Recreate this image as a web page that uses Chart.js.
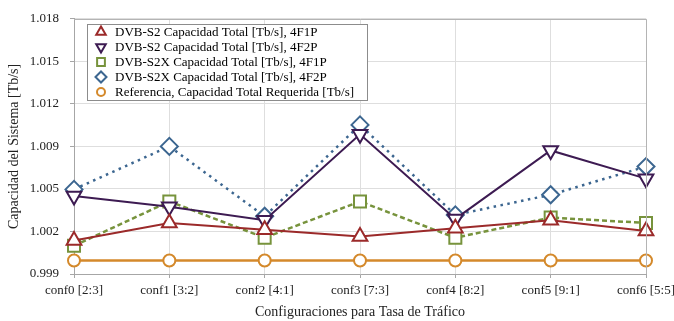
<!DOCTYPE html>
<html>
<head>
<meta charset="utf-8">
<script src="https://cdn.jsdelivr.net/npm/chart.js@4.4.0/dist/chart.umd.min.js"></script>
<style>
    html, body { margin: 0; padding: 0; background: #fff; }
    #wrap { width: 674px; height: 321px; }
</style>
</head>
<body>
<div id="wrap"><canvas id="capChart" width="674" height="321"></canvas></div>
<script>
// Datos
const categories = ['conf0 [2:3]', 'conf1 [3:2]', 'conf2 [4:1]', 'conf3 [7:3]', 'conf4 [8:2]', 'conf5 [9:1]', 'conf6 [5:5]'];
const s2_4F1P  = [1.0015, 1.0028, 1.0023, 1.0018, 1.0024, 1.0030, 1.0022];
const s2_4F2P  = [1.0048, 1.0040, 1.0030, 1.0094, 1.0031, 1.0082, 1.0061];
const s2x_4F1P = [1.0011, 1.0044, 1.0017, 1.0044, 1.0017, 1.0032, 1.0028];
const s2x_4F2P = [1.0053, 1.0085, 1.0033, 1.0101, 1.0034, 1.0049, 1.0070];
const referencia = [1.0000, 1.0000, 1.0000, 1.0000, 1.0000, 1.0000, 1.0000];
const yTickLabels = ['0.999', '1.002', '1.005', '1.009', '1.012', '1.015', '1.018'];
const yMin = 0.999;
const yMax = 1.018;

const FONT = "'Liberation Serif', 'Times New Roman', serif";

// Dibuja un marcador sencillo para la leyenda
function drawMarker(ctx, style, rot, x, y, r) {
    ctx.beginPath();
    if (style === 'circle') {
        ctx.arc(x, y, r, 0, Math.PI * 2);
    } else if (style === 'rect') {
        const s = r * Math.SQRT1_2;
        ctx.rect(x - s, y - s, 2 * s, 2 * s);
    } else if (style === 'rectRot') {
        ctx.moveTo(x - r, y);
        ctx.lineTo(x, y - r);
        ctx.lineTo(x + r, y);
        ctx.lineTo(x, y + r);
        ctx.closePath();
    } else if (style === 'triangle') {
        let a = rot * Math.PI / 180;
        ctx.moveTo(x + Math.sin(a) * r, y - Math.cos(a) * r);
        for (let i = 0; i < 2; i++) {
            a += Math.PI * 2 / 3;
            ctx.lineTo(x + Math.sin(a) * r, y - Math.cos(a) * r);
        }
        ctx.closePath();
    }
    ctx.fillStyle = '#fff';
    ctx.fill();
    ctx.stroke();
}

// Leyenda dentro del área del gráfico, con borde
const boxLegend = {
    id: 'boxLegend',
    afterDatasetsDraw(chart) {
        const ctx = chart.ctx;
        const left = 87, top = 24, width = 280, rowH = 15;
        const height = rowH * chart.data.datasets.length + 1;
        ctx.save();
        ctx.fillStyle = '#fff';
        ctx.fillRect(left, top, width, height);
        ctx.strokeStyle = '#8c8c8c';
        ctx.lineWidth = 1;
        ctx.strokeRect(left + 0.5, top + 0.5, width, height);
        ctx.font = '13px ' + FONT;
        ctx.textBaseline = 'middle';
        chart.data.datasets.forEach((ds, i) => {
            const cy = top + 8 + i * rowH;
            ctx.strokeStyle = ds.borderColor;
            ctx.lineWidth = 2;
            ctx.setLineDash([]);
            drawMarker(ctx, ds.pointStyle, ds.pointRotation || 0, 101, cy, ds.pointStyle === 'circle' ? 4 : 5.5);
            ctx.fillStyle = '#000';
            ctx.fillText(ds.label, 115, cy + 0.5);
        });
        ctx.restore();
    },
    afterDraw(chart) {
        // borde superior y derecho del área
        const a = chart.chartArea;
        const ctx = chart.ctx;
        ctx.save();
        ctx.strokeStyle = '#b4b4b4';
        ctx.lineWidth = 1;
        ctx.beginPath();
        ctx.moveTo(a.left, Math.round(a.top) + 0.5);
        ctx.lineTo(Math.round(a.right) + 0.5, Math.round(a.top) + 0.5);
        ctx.lineTo(Math.round(a.right) + 0.5, a.bottom);
        ctx.stroke();
        ctx.restore();
    }
};

function serie(label, data, color, style, extra) {
    return Object.assign({
        label: label,
        data: data,
        borderColor: color,
        backgroundColor: '#fff',
        pointBackgroundColor: '#fff',
        pointBorderColor: color,
        pointStyle: style,
        borderWidth: 2,
        pointBorderWidth: 2,
        pointRadius: 7,
        pointHoverRadius: 7,
        tension: 0,
        fill: false
    }, extra || {});
}

const ctx = document.getElementById('capChart').getContext('2d');
const capChart = new Chart(ctx, {
    type: 'line',
    data: {
        labels: categories,
        datasets: [
            serie('DVB-S2 Capacidad Total [Tb/s], 4F1P', s2_4F1P, '#9b2a2a', 'triangle', { pointRadius: 8.5 }),
            serie('DVB-S2 Capacidad Total [Tb/s], 4F2P', s2_4F2P, '#3d1b52', 'triangle', { pointRadius: 8.5, pointRotation: 180 }),
            serie('DVB-S2X Capacidad Total [Tb/s], 4F1P', s2x_4F1P, '#77933c', 'rect', { pointRadius: 8.5, borderDash: [5, 3], borderWidth: 2.5 }),
            serie('DVB-S2X Capacidad Total [Tb/s], 4F2P', s2x_4F2P, '#3c6690', 'rectRot', { pointRadius: 8.5, borderDash: [2.5, 4.5], borderWidth: 2.5, borderCapStyle: 'butt' }),
            serie('Referencia, Capacidad Total Requerida [Tb/s]', referencia, '#d4892b', 'circle', { pointRadius: 6, borderWidth: 2.5 })
        ]
    },
    options: {
        responsive: false,
        animation: false,
        layout: { padding: { top: 12, right: 28, left: 0, bottom: 0 } },
        plugins: {
            legend: { display: false },
            tooltip: { enabled: false }
        },
        scales: {
            x: {
                offset: false,
                grid: { color: '#dedede', tickColor: '#a6a6a6', tickLength: 4 },
                border: { color: '#a6a6a6' },
                ticks: { color: '#222', font: { family: FONT, size: 13 }, padding: 5, maxRotation: 0, autoSkip: false },
                title: { display: true, text: 'Configuraciones para Tasa de Tráfico', color: '#222', font: { family: FONT, size: 14 }, padding: { top: 0, bottom: 0 } },
                afterFit: function(scale) {
                    scale.height = 47;
                    scale.paddingLeft = 0;
                    scale.paddingRight = 0;
                }
            },
            y: {
                min: yMin,
                max: yMax,
                grid: { color: '#dedede', tickColor: '#a6a6a6', tickLength: 4 },
                border: { color: '#a6a6a6' },
                ticks: {
                    color: '#222',
                    font: { family: FONT, size: 13 },
                    padding: 11,
                    callback: function(value, index) {
                        return yTickLabels[index];
                    }
                },
                afterBuildTicks: function(scale) {
                    const n = yTickLabels.length;
                    scale.ticks = yTickLabels.map((_, i) => ({ value: yMin + i * (yMax - yMin) / (n - 1) }));
                },
                title: { display: true, text: 'Capacidad del Sistema [Tb/s]', color: '#222', font: { family: FONT, size: 14 }, padding: { top: 6, bottom: 0 } },
                afterFit: function(scale) {
                    scale.width = 74;
                }
            }
        }
    },
    plugins: [boxLegend]
});
</script>
</body>
</html>
